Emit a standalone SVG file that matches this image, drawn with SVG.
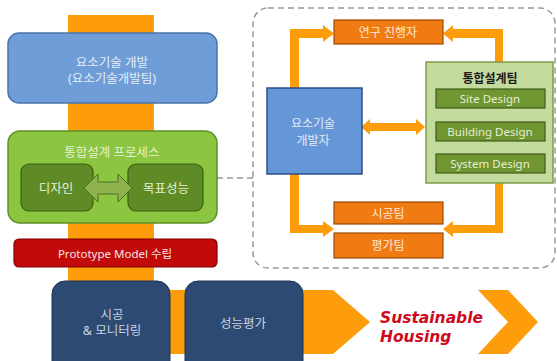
<svg xmlns="http://www.w3.org/2000/svg" width="557" height="361" viewBox="0 0 557 361">
<style>
.k{font-family:"Noto Sans","Noto Sans CJK KR",sans-serif;text-anchor:middle;dominant-baseline:central}
.lt{fill:#e4ecf6;font-size:12.5px}
.lg{fill:#e6f0d4;font-size:12.5px}
.wo{fill:#fde8d4;font-size:12px}
.bar{fill:#fd9d0c}
.ob{fill:#ef7b12;stroke:#9c4a06;stroke-width:1.2}
.dg{fill:#6f9630;stroke:#3f5a18;stroke-width:1.2}
.nv{fill:#2c4a72;stroke:#1d3456;stroke-width:1}
</style>
<rect width="557" height="361" fill="#ffffff"/>
<!-- background orange flow -->
<rect class="bar" x="68" y="15" width="86" height="280"/>
<polygon class="bar" points="100,290 333,290 370,322 333,354 100,354"/>
<polygon class="bar" points="478,290 508,290 538,322 508,354 478,354 508,322"/>
<!-- dashed container -->
<rect x="253" y="8" width="302" height="260" rx="15" fill="none" stroke="#999" stroke-width="1.5" stroke-dasharray="6 4"/>
<g id="connectors">
<line x1="217" y1="178" x2="253" y2="178" stroke="#999" stroke-width="1.5" stroke-dasharray="6 4"/>
<polygon class="bar" points="290,89 290,29 323,29 323,25 334,33.5 323,42 323,38 299,38 299,89"/>
<polygon class="bar" points="503,62 503,29 453,29 453,25 443,33.5 453,42 453,38 495,38 495,62"/>
<polygon class="bar" points="290,174 290,233 323,233 323,237 334,229 323,221 323,225 299,225 299,174"/>
<polygon class="bar" points="503,183 503,233 453,233 453,237 443,229 453,221 453,225 495,225 495,183"/>
<polygon class="bar" points="361,127 370,119 370,123 416,123 416,119 425,127 416,135 416,131 370,131 370,135"/>
</g>
<g id="n-tech">
<rect x="8" y="33" width="209" height="70" rx="11" fill="#6e9dd8" stroke="#4a74ad" stroke-width="1.5"/>
<text class="k lt" x="112" y="62">요소기술 개발</text>
<text class="k lt" x="112" y="78">(요소기술개발팀)</text>
</g>
<g id="n-process">
<rect x="8" y="131" width="209" height="92" rx="12" fill="#8cc540" stroke="#5f8f26" stroke-width="1.5"/>
<text class="k lg" x="112" y="152">통합설계 프로세스</text>
<rect x="21" y="164" width="72" height="47" rx="8" fill="#5e8b26" stroke="#3d5f14" stroke-width="1.2"/>
<rect x="128" y="164" width="75" height="47" rx="8" fill="#5e8b26" stroke="#3d5f14" stroke-width="1.2"/>
<polygon points="84,188 98,174 98,182 118,182 118,174 132,188 118,202 118,194 98,194 98,202" fill="#8db24e" stroke="#4d7020" stroke-width="1"/>
<text class="k lg" x="56" y="188">디자인</text>
<text class="k lg" x="166" y="188">목표성능</text>
</g>
<g id="n-prototype">
<rect x="14" y="239" width="203" height="28" rx="5" fill="#c20a0a" stroke="#7e0000" stroke-width="1.2"/>
<text class="k" x="115" y="253" fill="#f8e4e4" font-size="11.5">Prototype Model  수립</text>
</g>
<g id="n-construct">
<rect class="nv" x="52" y="281" width="118" height="100" rx="13"/>
<text class="k" x="112" y="314" fill="#c9d4e4" font-size="12.5">시공</text>
<text class="k" x="112" y="330" fill="#c9d4e4" font-size="12.5">&amp; 모니터링</text>
</g>
<g id="n-eval">
<rect class="nv" x="185" y="281" width="118" height="100" rx="13"/>
<text class="k" x="243" y="323" fill="#c9d4e4" font-size="12.5">성능평가</text>
</g>
<g id="n-sustain">
<text x="380" y="323" font-family="'DejaVu Sans',sans-serif" font-weight="bold" font-style="italic" font-size="15.5" fill="#cc0a1e">Sustainable</text>
<text x="380" y="342" font-family="'DejaVu Sans',sans-serif" font-weight="bold" font-style="italic" font-size="15.5" fill="#cc0a1e">Housing</text>
</g>
<g id="n-researcher">
<rect class="ob" x="334" y="20" width="109" height="24"/>
<text class="k wo" x="388" y="32">연구 진행자</text>
</g>
<g id="n-developer">
<rect x="267" y="88" width="95" height="86" fill="#6496d8" stroke="#2c4f86" stroke-width="1.5"/>
<text class="k" x="313" y="123.5" fill="#e4ecf6" font-size="12">요소기술</text>
<text class="k" x="313" y="140.5" fill="#e4ecf6" font-size="12">개발자</text>
</g>
<g id="n-team">
<rect x="426" y="62" width="127" height="121" fill="#c4db9e" stroke="#7e9d48" stroke-width="1.5"/>
<text class="k" x="490" y="78" fill="#1a1a1a" font-size="12" font-weight="bold">통합설계팀</text>
<rect class="dg" x="436" y="89" width="109" height="19"/>
<text class="k" x="490" y="98.5" fill="#e6eed8" font-size="11.5">Site Design</text>
<rect class="dg" x="436" y="122" width="109" height="19"/>
<text class="k" x="490" y="131.5" fill="#e6eed8" font-size="11.5">Building Design</text>
<rect class="dg" x="436" y="154" width="109" height="19"/>
<text class="k" x="490" y="163.5" fill="#e6eed8" font-size="11.5">System Design</text>
</g>
<g id="n-construct-team">
<rect class="ob" x="334" y="202" width="109" height="22"/>
<text class="k wo" x="388" y="213">시공팀</text>
</g>
<g id="n-eval-team">
<rect class="ob" x="334" y="233" width="109" height="25"/>
<text class="k wo" x="388" y="245.5">평가팀</text>
</g>
</svg>
